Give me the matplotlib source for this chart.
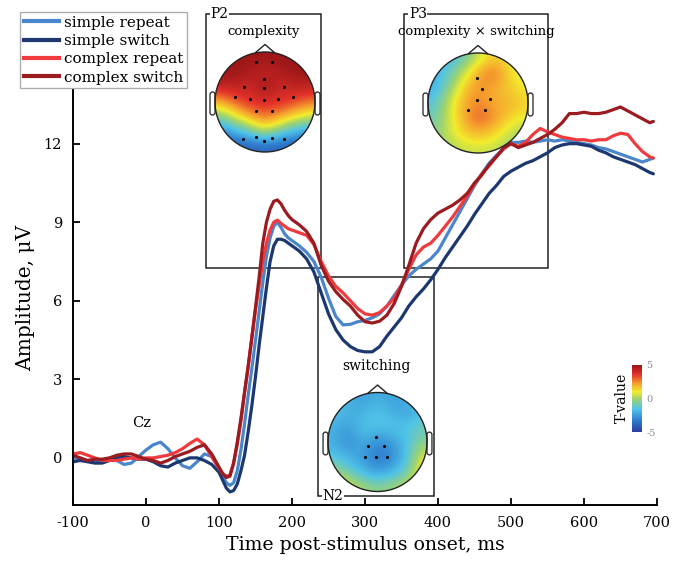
import numpy as np
import matplotlib.pyplot as plt
from matplotlib.colors import LinearSegmentedColormap
from matplotlib.patches import Circle, Polygon, FancyBboxPatch, Rectangle
from matplotlib.lines import Line2D
from matplotlib.cm import ScalarMappable
from matplotlib.colors import Normalize

plt.rcParams['font.family'] = 'DejaVu Serif'
plt.rcParams['axes.unicode_minus'] = False

# ERP at Cz, ms
time = np.concatenate([np.arange(-100, 101, 10), np.arange(105, 200, 5),
                       np.arange(200, 691, 10), [695]])

simple_repeat = [
    0.0, -0.05, -0.1, -0.1, -0.1, -0.05, -0.1, -0.25, -0.2, 0.05, 0.3,
    0.5, 0.6, 0.35, 0.0, -0.3, -0.4, -0.15, 0.15, 0.05, -0.4,
    -0.7, -0.95, -1.05, -0.95, -0.5, 0.3, 1.3, 2.4, 3.4, 4.5,
    5.6, 6.7, 7.7, 8.4, 8.85, 9.0, 8.8, 8.55, 8.4,
    8.3, 8.1, 7.85, 7.5, 6.9, 6.1, 5.4, 5.08, 5.1, 5.2,
    5.25, 5.35, 5.5, 5.8, 6.2, 6.6, 6.95, 7.2, 7.4, 7.6,
    7.9, 8.4, 8.9, 9.4, 9.9, 10.4, 10.85, 11.25, 11.55, 11.8,
    12.05, 12.05, 12.1, 12.05, 12.1, 12.15, 12.1, 12.15, 12.1, 12.05,
    12.0, 11.95, 11.85, 11.8, 11.7, 11.6, 11.5, 11.4, 11.3, 11.4,
    11.45]

simple_switch = [
    -0.15, -0.1, -0.15, -0.2, -0.2, -0.1, 0.0, 0.05, 0.0, -0.05, -0.05,
    -0.15, -0.3, -0.35, -0.2, -0.1, 0.0, 0.0, -0.1, -0.25, -0.55,
    -0.85, -1.15, -1.3, -1.25, -1.0, -0.5, 0.1, 1.0, 2.0, 3.1,
    4.3, 5.4, 6.5, 7.5, 8.1, 8.35, 8.35, 8.3, 8.2,
    8.1, 7.9, 7.6, 7.1, 6.3, 5.5, 4.9, 4.5, 4.25, 4.1,
    4.05, 4.05, 4.25, 4.65, 5.0, 5.35, 5.8, 6.15, 6.45, 6.8,
    7.2, 7.65, 8.05, 8.45, 8.85, 9.3, 9.7, 10.1, 10.4, 10.75,
    10.95, 11.1, 11.25, 11.35, 11.5, 11.65, 11.85, 11.95, 12.0, 12.0,
    11.95, 11.9, 11.75, 11.65, 11.5, 11.4, 11.3, 11.2, 11.05, 10.9,
    10.85]

complex_repeat = [
    0.15, 0.2, 0.1, 0.0, -0.1, -0.1, -0.1, -0.05, 0.0, -0.05, 0.0,
    0.0, 0.05, 0.1, 0.2, 0.35, 0.55, 0.72, 0.5, 0.05, -0.4,
    -0.6, -0.7, -0.65, -0.2, 0.5, 1.4, 2.5, 3.5, 4.6, 5.65,
    6.6, 7.5, 8.2, 8.7, 9.0, 9.08, 8.95, 8.85, 8.75,
    8.7, 8.6, 8.5, 8.15, 7.5, 6.95, 6.55, 6.3, 6.0, 5.7,
    5.5, 5.45, 5.55, 5.8, 6.1, 6.6, 7.2, 7.75, 8.05, 8.2,
    8.5, 8.85, 9.2, 9.6, 10.0, 10.45, 10.85, 11.15, 11.5, 11.8,
    12.0, 11.9, 12.05, 12.35, 12.58, 12.45, 12.35, 12.25, 12.2, 12.15,
    12.15, 12.1, 12.15, 12.15, 12.3, 12.4, 12.35, 12.0, 11.7, 11.5,
    11.45]

complex_switch = [
    0.1, 0.0, -0.1, -0.05, -0.05, 0.0, 0.1, 0.15, 0.15, 0.05, -0.05,
    -0.1, -0.2, -0.1, 0.05, 0.15, 0.25, 0.4, 0.5, 0.15, -0.35,
    -0.6, -0.75, -0.7, -0.2, 0.6, 1.5, 2.5, 3.5, 4.6, 5.75,
    6.9, 8.2, 9.0, 9.5, 9.8, 9.85, 9.7, 9.45, 9.25,
    9.1, 8.9, 8.65, 8.2, 7.35, 6.75, 6.35, 6.05, 5.8, 5.45,
    5.2, 5.15, 5.22, 5.45, 5.9, 6.55, 7.35, 8.2, 8.75, 9.1,
    9.35, 9.5, 9.65, 9.85, 10.1, 10.5, 10.8, 11.2, 11.5, 11.85,
    12.0, 11.85, 11.95, 12.05, 12.2, 12.35, 12.55, 12.8, 13.15, 13.15,
    13.2, 13.15, 13.15, 13.2, 13.3, 13.4, 13.25, 13.1, 12.95, 12.8,
    12.85]

labels = ["simple repeat", "simple switch", "complex repeat", "complex switch"]
colors = ["#4a86cc", "#1d3870", "#ef3b3e", "#9a1b20"]

# component windows: (name, effect, t0, t1, v_low, v_high)
windows = [
    ("P2", "complexity", 82.6, 240, 7.26, 16.95),
    ("P3", "complexity \u00d7 switching", 354, 551, 7.26, 16.95),
    ("N2", "switching", 236, 394, -1.44, 6.92),
]

# T-value maps on a 7x7 grid, front row first
p2_map = [
    [5, 5, 5, 5, 5, 5, 5],
    [5, 5, 4.6, 4.2, 4.6, 5, 5],
    [4.3, 4.3, 4.0, 5.0, 4.0, 4.3, 4.3],
    [2.0, 3.2, 3.8, 3.8, 3.8, 3.4, 2.8],
    [-0.5, 0.8, 2.2, 3.0, 2.2, 1.2, 0.5],
    [-3.0, -2.0, -1.0, 0.5, -1.0, -2.0, -2.5],
    [-4.5, -4.2, -4.0, -4.0, -4.0, -4.2, -4.5],
]
p3_map = [
    [-1.0, -2.2, -1.0, 0.5, 1.5, 1.0, 0.5],
    [-2.2, -1.2, 0.5, 2.0, 3.0, 1.5, 0.5],
    [-2.2, -0.5, 1.5, 2.5, 2.0, 1.5, 1.0],
    [-1.5, 0.5, 2.0, 2.5, 2.0, 2.0, 1.5],
    [-1.0, 0.5, 2.0, 3.2, 2.5, 1.5, 1.0],
    [-0.5, 0.5, 1.5, 2.0, 1.5, 0.5, 0.0],
    [0.0, 0.0, 0.5, 0.5, 0.5, 0.0, 0.0],
]
n2_map = [
    [-2.0, -2.0, -2.5, -2.0, -2.5, -2.0, -1.5],
    [-1.5, -2.0, -2.0, -1.5, -2.0, -2.5, -1.5],
    [-2.0, -2.5, -1.5, -1.5, -1.5, -1.5, -1.0],
    [-2.0, -3.0, -2.0, -3.0, -2.5, -1.5, -0.5],
    [-1.5, -2.0, -2.5, -3.5, -3.0, -1.5, 1.0],
    [0.0, -1.0, -2.0, -2.5, -2.0, -1.0, 1.5],
    [2.0, 1.0, 0.0, -0.5, 0.0, 0.5, 2.0],
]

# electrodes marked on each map (x right, y front)
p2_sites = [(-0.18, 0.8), (0.13, 0.8), (-0.03, 0.47), (-0.43, 0.3), (-0.03, 0.29),
            (0.37, 0.3), (-0.61, 0.11), (-0.31, 0.06), (-0.03, 0.05), (0.25, 0.06),
            (0.55, 0.11), (-0.18, -0.17), (0.13, -0.17), (-0.45, -0.73),
            (-0.18, -0.7), (-0.03, -0.77), (0.13, -0.71), (0.38, -0.73)]
p3_sites = [(-0.03, 0.5), (0.08, 0.28), (-0.03, 0.07), (0.23, 0.09),
            (-0.2, -0.13), (0.13, -0.13)]
n2_sites = [(-0.03, 0.11), (-0.2, -0.09), (0.14, -0.09), (-0.25, -0.3),
            (-0.03, -0.3), (0.19, -0.3)]

W, H = 683, 564
fig = plt.figure(figsize=(W / 100, H / 100), dpi=100)


def fx(px):
    return px / W


def fy(py):
    return 1 - py / H


ax = fig.add_axes([fx(73), fy(505), fx(657) - fx(73), fy(90) - fy(505)])
for y, lab, c in zip([simple_repeat, simple_switch, complex_repeat, complex_switch], labels, colors):
    ax.plot(time, y, color=c, lw=2.3, label=lab, solid_capstyle='round')

ax.set_xlim(-100, 700)
ax.set_ylim(-1.8, 14.05)
ax.set_xticks(range(-100, 701, 100))
ax.set_yticks([0, 3, 6, 9, 12])
ax.spines[['top', 'right']].set_visible(False)
for s in ['left', 'bottom']:
    ax.spines[s].set_linewidth(1.4)
ax.tick_params(direction='in', length=5, width=1.3, labelsize=10.5, pad=8)
ax.set_xlabel("Time post-stimulus onset, ms", fontsize=13.6, labelpad=4)
ax.set_ylabel("Amplitude, \u03bcV", fontsize=14.5, labelpad=6)

# component windows
for name, effect, t0, t1, v0, v1 in windows:
    ax.add_patch(Rectangle((t0, v0), t1 - t0, v1 - v0, fill=False, lw=1.1,
                           ec='#222222', clip_on=False, zorder=1))
    ny = v0 if name == "N2" else v1
    ax.text(t0 + 6, ny, name, fontsize=10, va='center', ha='left', zorder=3,
            bbox=dict(facecolor='white', edgecolor='none', pad=0.5))
ax.text((82.6 + 240) / 2, 16.3, "complexity", fontsize=9.5, ha='center', va='center')
ax.text((354 + 551) / 2, 16.3, "complexity \u00d7 switching", fontsize=9.5, ha='center', va='center')
ax.text((236 + 394) / 2, 3.52, "switching", fontsize=10, ha='center', va='center')
ax.text(-6, 1.35, "Cz", fontsize=10.5, ha='center', va='center')

cmap = LinearSegmentedColormap.from_list(
    "tval", [(0, '#2b3f9e'), (0.18, '#2f7fd0'), (0.34, '#4fc3e8'), (0.5, '#a0d46c'),
             (0.6, '#f2ec2c'), (0.72, '#f6a22e'), (0.86, '#e4322a'), (1, '#9b1618')])


def head(cx, cy, r, grid, sites):
    size = 2.6 * r
    hx = fig.add_axes([fx(cx - size / 2), fy(cy + size / 2), size / W, size / H])
    hx.set_xlim(-1.3, 1.3)
    hx.set_ylim(-1.3, 1.3)
    hx.set_aspect('equal')
    hx.axis('off')
    img = hx.imshow(np.array(grid), extent=(-1.05, 1.05, -1.05, 1.05), cmap=cmap,
                    vmin=-5, vmax=5, interpolation='bicubic', origin='upper')
    clip = Circle((0, 0), 1.0, transform=hx.transData)
    img.set_clip_path(clip)
    hx.add_patch(Circle((0, 0), 1.0, fill=False, lw=1.0, ec='#222222'))
    hx.add_patch(Polygon([(-0.2, 0.98), (0, 1.15), (0.2, 0.98)], closed=False,
                         fill=False, lw=1.0, ec='#222222'))
    for side in (-1, 1):
        hx.add_patch(FancyBboxPatch((-1.1 if side < 0 else 1.0, -0.26), 0.1, 0.46,
                                    boxstyle="round,pad=0.0,rounding_size=0.05",
                                    fill=False, lw=0.9, ec='#222222'))
    sx, sy = zip(*sites)
    hx.scatter(sx, sy, s=1.5, c='black', zorder=5)


head(265, 102, 50, p2_map, p2_sites)
head(478, 103, 50, p3_map, p3_sites)
head(377.5, 442, 49.5, n2_map, n2_sites)

cax = fig.add_axes([fx(632), fy(432), fx(642) - fx(632), fy(365) - fy(432)])
cb = fig.colorbar(ScalarMappable(Normalize(-5, 5), cmap), cax=cax, ticks=[-5, 0, 5])
cb.outline.set_visible(False)
cb.ax.tick_params(length=0, labelsize=7, colors='#888888', pad=3)
cb.ax.set_yticklabels(['-5', '0', '5'])
fig.text(fx(622), fy(398), "T-value", rotation=90, fontsize=10, ha='center', va='center')

handles = [Line2D([], [], color=c, lw=3) for c in colors]
fig.legend(handles, labels, loc='upper left', bbox_to_anchor=(fx(20), fy(12)),
           fontsize=11, frameon=True, fancybox=False, edgecolor='#999999',
           borderpad=0.25, labelspacing=0.28, handlelength=2.3, handletextpad=0.3,
           borderaxespad=0)

fig.savefig("out.png", dpi=100)
